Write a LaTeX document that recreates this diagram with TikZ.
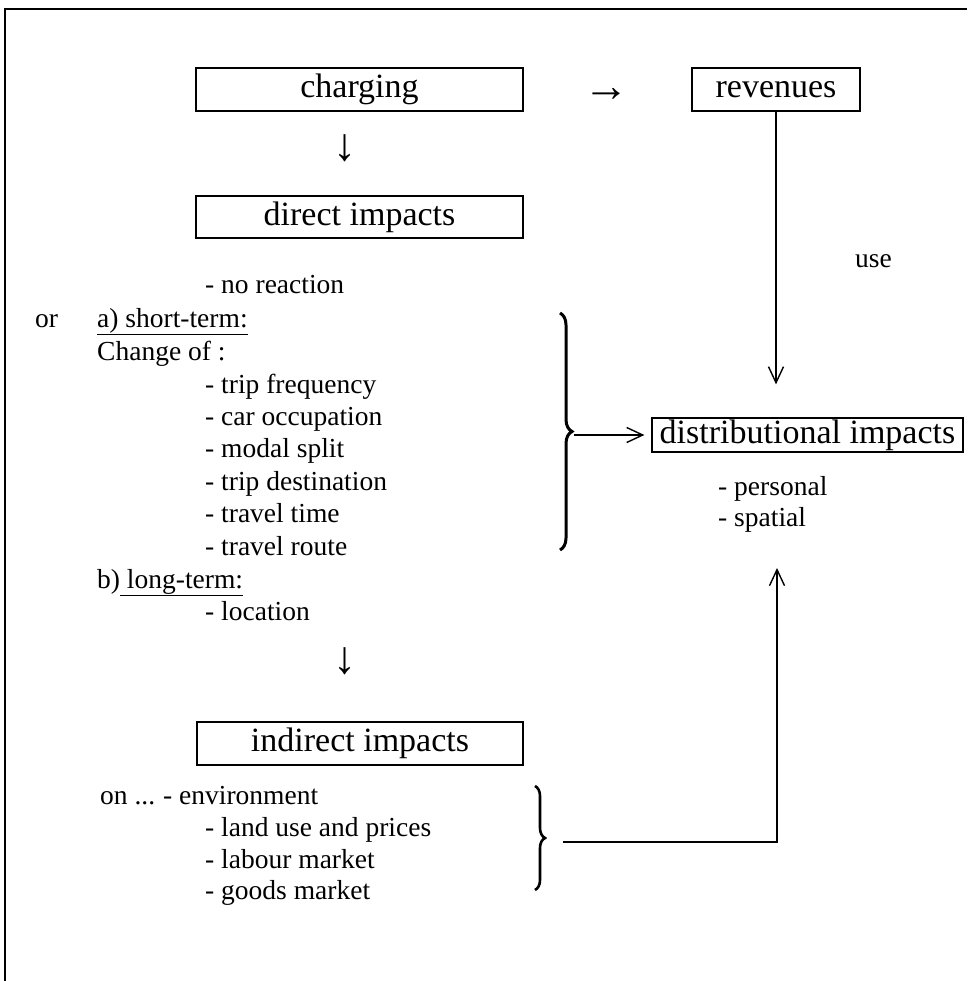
\documentclass[tikz,border=0pt]{standalone}
\usepackage{fontspec}
\setmainfont{Liberation Serif}
\usetikzlibrary{arrows.meta,decorations.pathreplacing}
\begin{document}
\begin{tikzpicture}[x=1pt,y=-1pt,
  box/.style={draw,line width=1.3pt,inner sep=0pt,font=\fontsize{34}{40}\selectfont},
  txt/.style={anchor=base west,inner sep=0pt,font=\fontsize{27.5}{33}\selectfont},
  glyph/.style={inner sep=0pt,font=\fontsize{46}{48}\selectfont},
  conn/.style={line width=1.4pt,-{Straight Barb[length=16pt,width=15pt,line width=1.4pt]}},
  bigbrace/.style={decorate,decoration={brace,amplitude=12pt},line width=3pt},
  smallbrace/.style={decorate,decoration={brace,amplitude=10pt},line width=2.6pt},
  frame/.style={line width=2.4pt}]
\useasboundingbox (0,0) rectangle (967,981);
% frame
\draw[frame] (5,981) -- (5,9) -- (967,9);
% boxes
\node[box,minimum width=327pt,minimum height=43pt] (charging) at (359.5,89.5) {charging};
\node[box,minimum width=168pt,minimum height=43pt] (revenues) at (776,89.5) {revenues};
\node[box,minimum width=327pt,minimum height=42pt] (direct) at (359.5,217) {direct impacts};
\node[box,minimum width=326pt,minimum height=43pt] (indirect) at (360,743.5) {indirect impacts};
\node[box,minimum width=311pt,minimum height=34pt] (dist) at (807.5,435) {distributional impacts};
% glyph arrows
\node[glyph] (arrright) at (606,95) {→};
\node[glyph] (arrdown1) at (345,148) {↓};
\node[glyph] (arrdown2) at (345,661) {↓};
% labels
\node[txt] (use) at (855,268) {use};
\node[txt] (noreact) at (205,294) {- no reaction};
\node[txt] (or) at (35,327) {or};
\node[txt] (short) at (97,327) {\underline{a) short-term:}};
\node[txt] (change) at (97,360) {Change of :};
\node[txt] (l1) at (205,393) {- trip frequency};
\node[txt] (l2) at (205,425) {- car occupation};
\node[txt] (l3) at (205,457) {- modal split};
\node[txt] (l4) at (205,490) {- trip destination};
\node[txt] (l5) at (205,522) {- travel time};
\node[txt] (l6) at (205,555) {- travel route};
\node[txt] (long) at (97,588) {b)\underline{\ long-term:}};
\node[txt] (loc) at (205,620) {- location};
\node[txt] (personal) at (718,495) {- personal};
\node[txt] (spatial) at (718,526) {- spatial};
\node[txt] (on) at (100,804) {on ...};
\node[txt] (e1) at (163,804) {- environment};
\node[txt] (e2) at (205,836) {- land use and prices};
\node[txt] (e3) at (205,868) {- labour market};
\node[txt] (e4) at (205,899) {- goods market};
% braces
\draw[bigbrace] (560,313) -- (560,550);
\draw[smallbrace] (535,786) -- (535,890);
\coordinate (bbtip) at (574,435);
\coordinate (sbtip) at (563,842);
\coordinate (uptip) at (777,568);
% connectors
\draw[conn] (revenues) -- ([yshift=33pt]dist.north -| revenues);
\draw[conn] (bbtip) -- ([xshift=-7pt]dist.west);
\draw[conn] (sbtip) -| (uptip);
\end{tikzpicture}
\end{document}
